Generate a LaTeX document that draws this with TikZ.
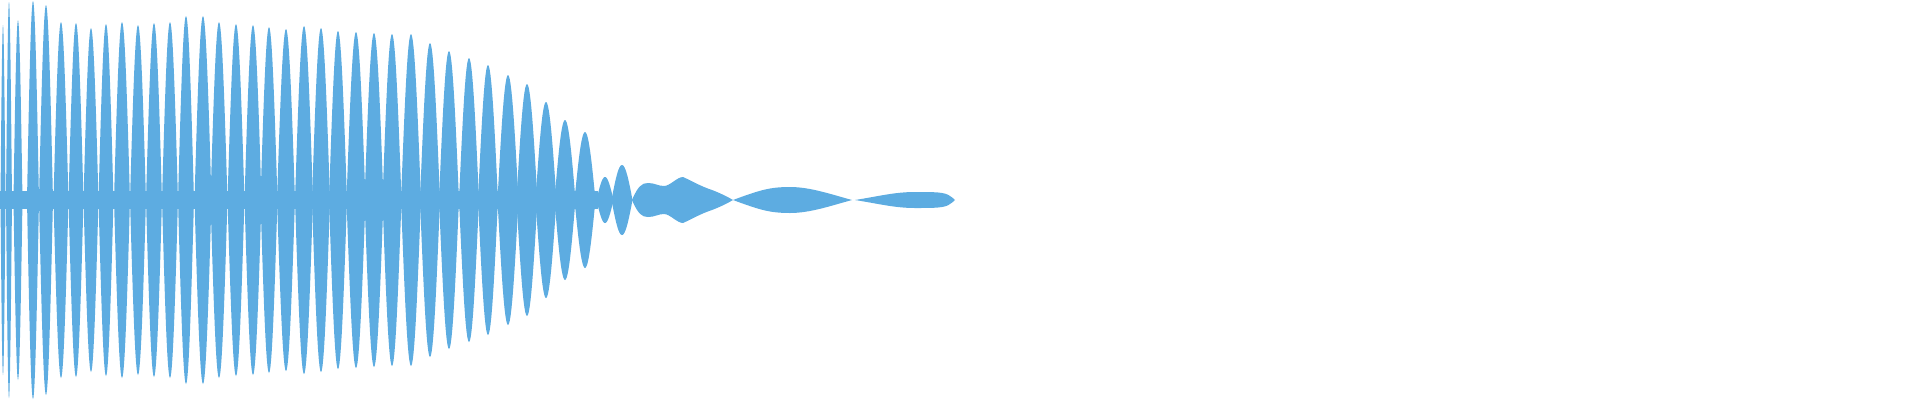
\documentclass[tikz,border=0pt]{standalone}
\definecolor{wave}{HTML}{5DACE1}
\begin{document}
\begin{tikzpicture}[x=1pt,y=-1pt,wavefill/.style={fill=wave}]
\useasboundingbox (0,0) rectangle (1920,400);
\fill[wavefill] (0,191) rectangle (598,209);
\foreach \c/\a/\w in {3/175/5,9/198/6,18/180/9,33/199/12,46/195/14,61/178/15,76/177/15,91/172/15,106/176/15,122/178/16,138/175/16,154/177/16,170/178/16,186/184/16,203/184/17,219/178/17,236/176/17,253/175/17,269/173/17,286/171/18,304/174/18,321/172/18,338/169/18,356/168/19,374/167/19,392/166/19,411/166/20,430/157/20,449/149/20,469/142/20,488/135/20,508/125/21,527/116/21,546/98/21,565/80/21,585/68/21,605/23/17,622/35/21}{
  \fill[wavefill] plot[domain=0:180,samples=25] ({\c+\w*(\x/180-0.5)},{200-\a*sin(\x)})
    -- plot[domain=180:0,samples=25] ({\c+\w*(\x/180-0.5)},{200+\a*sin(\x)}) -- cycle;
}
% tail blobs
\fill[wavefill] (632,200) .. controls (638,186) and (642,183) .. (648,183)
  .. controls (655,183) and (658,186) .. (664,186)
  .. controls (670,186) and (677,177) .. (683,177)
  .. controls (692,181) and (700,186) .. (712,190)
  .. controls (720,193) and (728,197) .. (733,200)
  .. controls (728,203) and (720,207) .. (712,210)
  .. controls (700,214) and (692,219) .. (683,223)
  .. controls (677,223) and (670,214) .. (664,214)
  .. controls (658,214) and (655,217) .. (648,217)
  .. controls (642,217) and (638,214) .. (632,200) -- cycle;
\fill[wavefill] (733,200) .. controls (760,190) and (770,187) .. (790,187)
  .. controls (810,187) and (830,194) .. (852,200)
  .. controls (830,206) and (810,213) .. (790,213)
  .. controls (770,213) and (760,210) .. (733,200) -- cycle;
\fill[wavefill] (855,200) .. controls (880,196) and (895,192) .. (915,192)
  .. controls (935,192) and (945,192) .. (950,196)
  .. controls (953,198) and (954,199) .. (955,200)
  .. controls (954,201) and (953,202) .. (950,204)
  .. controls (945,208) and (935,208) .. (915,208)
  .. controls (895,208) and (880,204) .. (855,200) -- cycle;
\end{tikzpicture}
\end{document}
